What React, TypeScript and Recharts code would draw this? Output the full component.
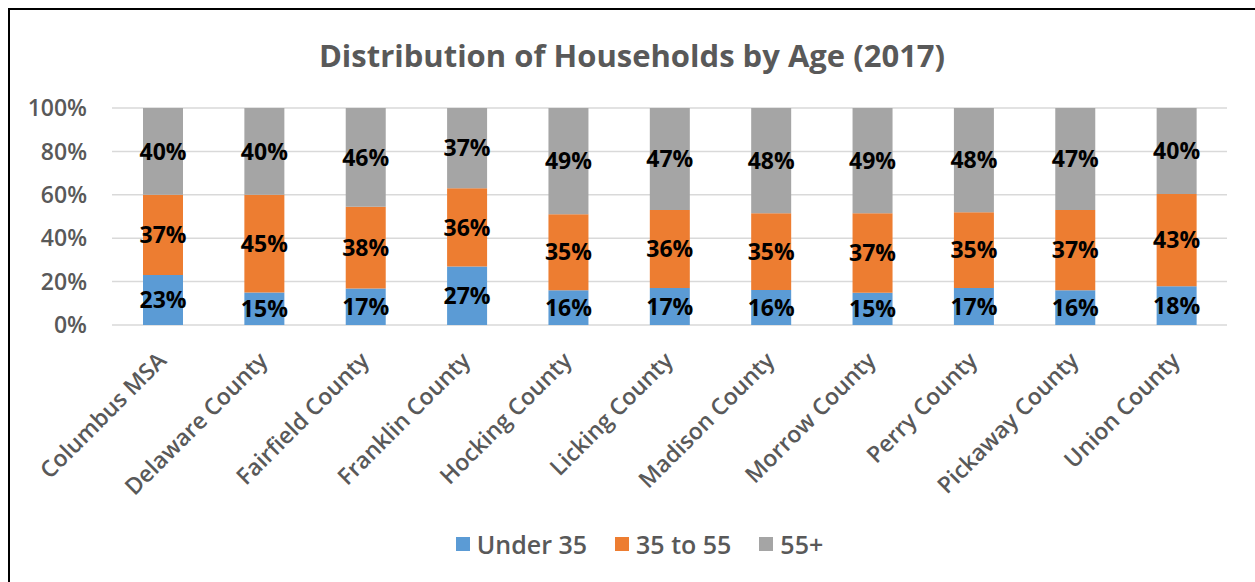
import React from 'react';
import { BarChart, Bar, XAxis, YAxis, CartesianGrid, Legend, LabelList } from 'recharts';

const categories = [
  'Columbus MSA',
  'Delaware County',
  'Fairfield County',
  'Franklin County',
  'Hocking County',
  'Licking County',
  'Madison County',
  'Morrow County',
  'Perry County',
  'Pickaway County',
  'Union County',
];
const under35 = [23, 15, 17, 27, 16, 17, 16, 15, 17, 16, 18];
const age35to55 = [37, 45, 38, 36, 35, 36, 35, 37, 35, 37, 43];
const age55plus = [40, 40, 46, 37, 49, 47, 48, 49, 48, 47, 40];
const seriesKeys = ['under35', 'mid', 'senior'];
const seriesNames = ['Under 35', '35 to 55', '55+'];
const seriesColors = ['#5B9BD5', '#ED7D31', '#A5A5A5'];
const yTicks = [0, 0.2, 0.4, 0.6, 0.8, 1];
const title = 'Distribution of Households by Age (2017)';

const data = categories.map((c, i) => ({
  category: c,
  under35: under35[i],
  mid: age35to55[i],
  senior: age55plus[i],
}));

const FONT = '"Open Sans", "Noto Sans", sans-serif';
const GREY = '#595959';

const XTick = (props: any) => {
  const { x, y, payload } = props;
  return (
    <g transform={`translate(${x + 5},${y + 37})`}>
      <text
        transform="rotate(-45)"
        textAnchor="end"
        fill={GREY}
        fontSize={23}
        fontWeight={600}
        fontFamily={FONT}
      >
        {payload.value}
      </text>
    </g>
  );
};

const LegendContent = () => (
  <div
    style={{
      display: 'flex',
      justifyContent: 'center',
      alignItems: 'center',
      height: 40,
      fontFamily: FONT,
      fontSize: 25,
      fontWeight: 600,
      color: GREY,
    }}
  >
    {seriesNames.map((n, i) => (
      <div key={n} style={{ display: 'flex', alignItems: 'center', marginRight: i < seriesNames.length - 1 ? 28 : 0 }}>
        <span style={{ display: 'inline-block', width: 14, height: 14, background: seriesColors[i], marginRight: 7 }} />
        <span>{n}</span>
      </div>
    ))}
  </div>
);

export default function App() {
  return (
    <div style={{ position: 'fixed', left: 0, top: 0, width: 1255, height: 582, background: '#fff', overflow: 'hidden' }}>
      <div
        style={{
          position: 'absolute',
          left: 8,
          top: 8,
          width: 1300,
          height: 600,
          borderTop: '2px solid #000',
          borderLeft: '2px solid #000',
        }}
      />
      <div
        style={{
          position: 'absolute',
          left: 0,
          top: 34,
          width: 1264,
          textAlign: 'center',
          fontFamily: FONT,
          fontSize: 31,
          fontWeight: 700,
          color: GREY,
          whiteSpace: 'nowrap',
          lineHeight: 'normal',
        }}
      >
        {title}
      </div>
      <div style={{ position: 'absolute', left: 0, top: 0 }}>
        <BarChart
          width={1255}
          height={582}
          data={data}
          stackOffset="expand"
          margin={{ top: 108, right: 28, left: 52, bottom: 18 }}
        >
          <CartesianGrid vertical={false} stroke="#D9D9D9" strokeWidth={1.5} />
          <XAxis
            dataKey="category"
            interval={0}
            height={199}
            axisLine={false}
            tickLine={false}
            tickSize={0}
            tickMargin={0}
            tick={<XTick />}
          />
          <YAxis
            type="number"
            domain={[0, 1]}
            ticks={yTicks}
            width={60}
            axisLine={false}
            tickLine={false}
            tickSize={0}
            tickMargin={25}
            tickFormatter={(v: number) => `${Math.round(v * 100)}%`}
            tick={{ fill: GREY, fontSize: 23, fontWeight: 600, fontFamily: FONT }}
          />
          <Legend verticalAlign="bottom" height={40} content={<LegendContent />} />
          {seriesKeys.map((k, i) => (
            <Bar
              key={k}
              dataKey={k}
              name={seriesNames[i]}
              stackId="a"
              fill={seriesColors[i]}
              barSize={40}
              isAnimationActive={false}
            >
              <LabelList
                dataKey={k}
                position="center"
                formatter={(v: any) => `${v}%`}
                fill="#000"
                fontSize={23}
                fontWeight={700}
                fontFamily={FONT}
              />
            </Bar>
          ))}
        </BarChart>
      </div>
    </div>
  );
}
